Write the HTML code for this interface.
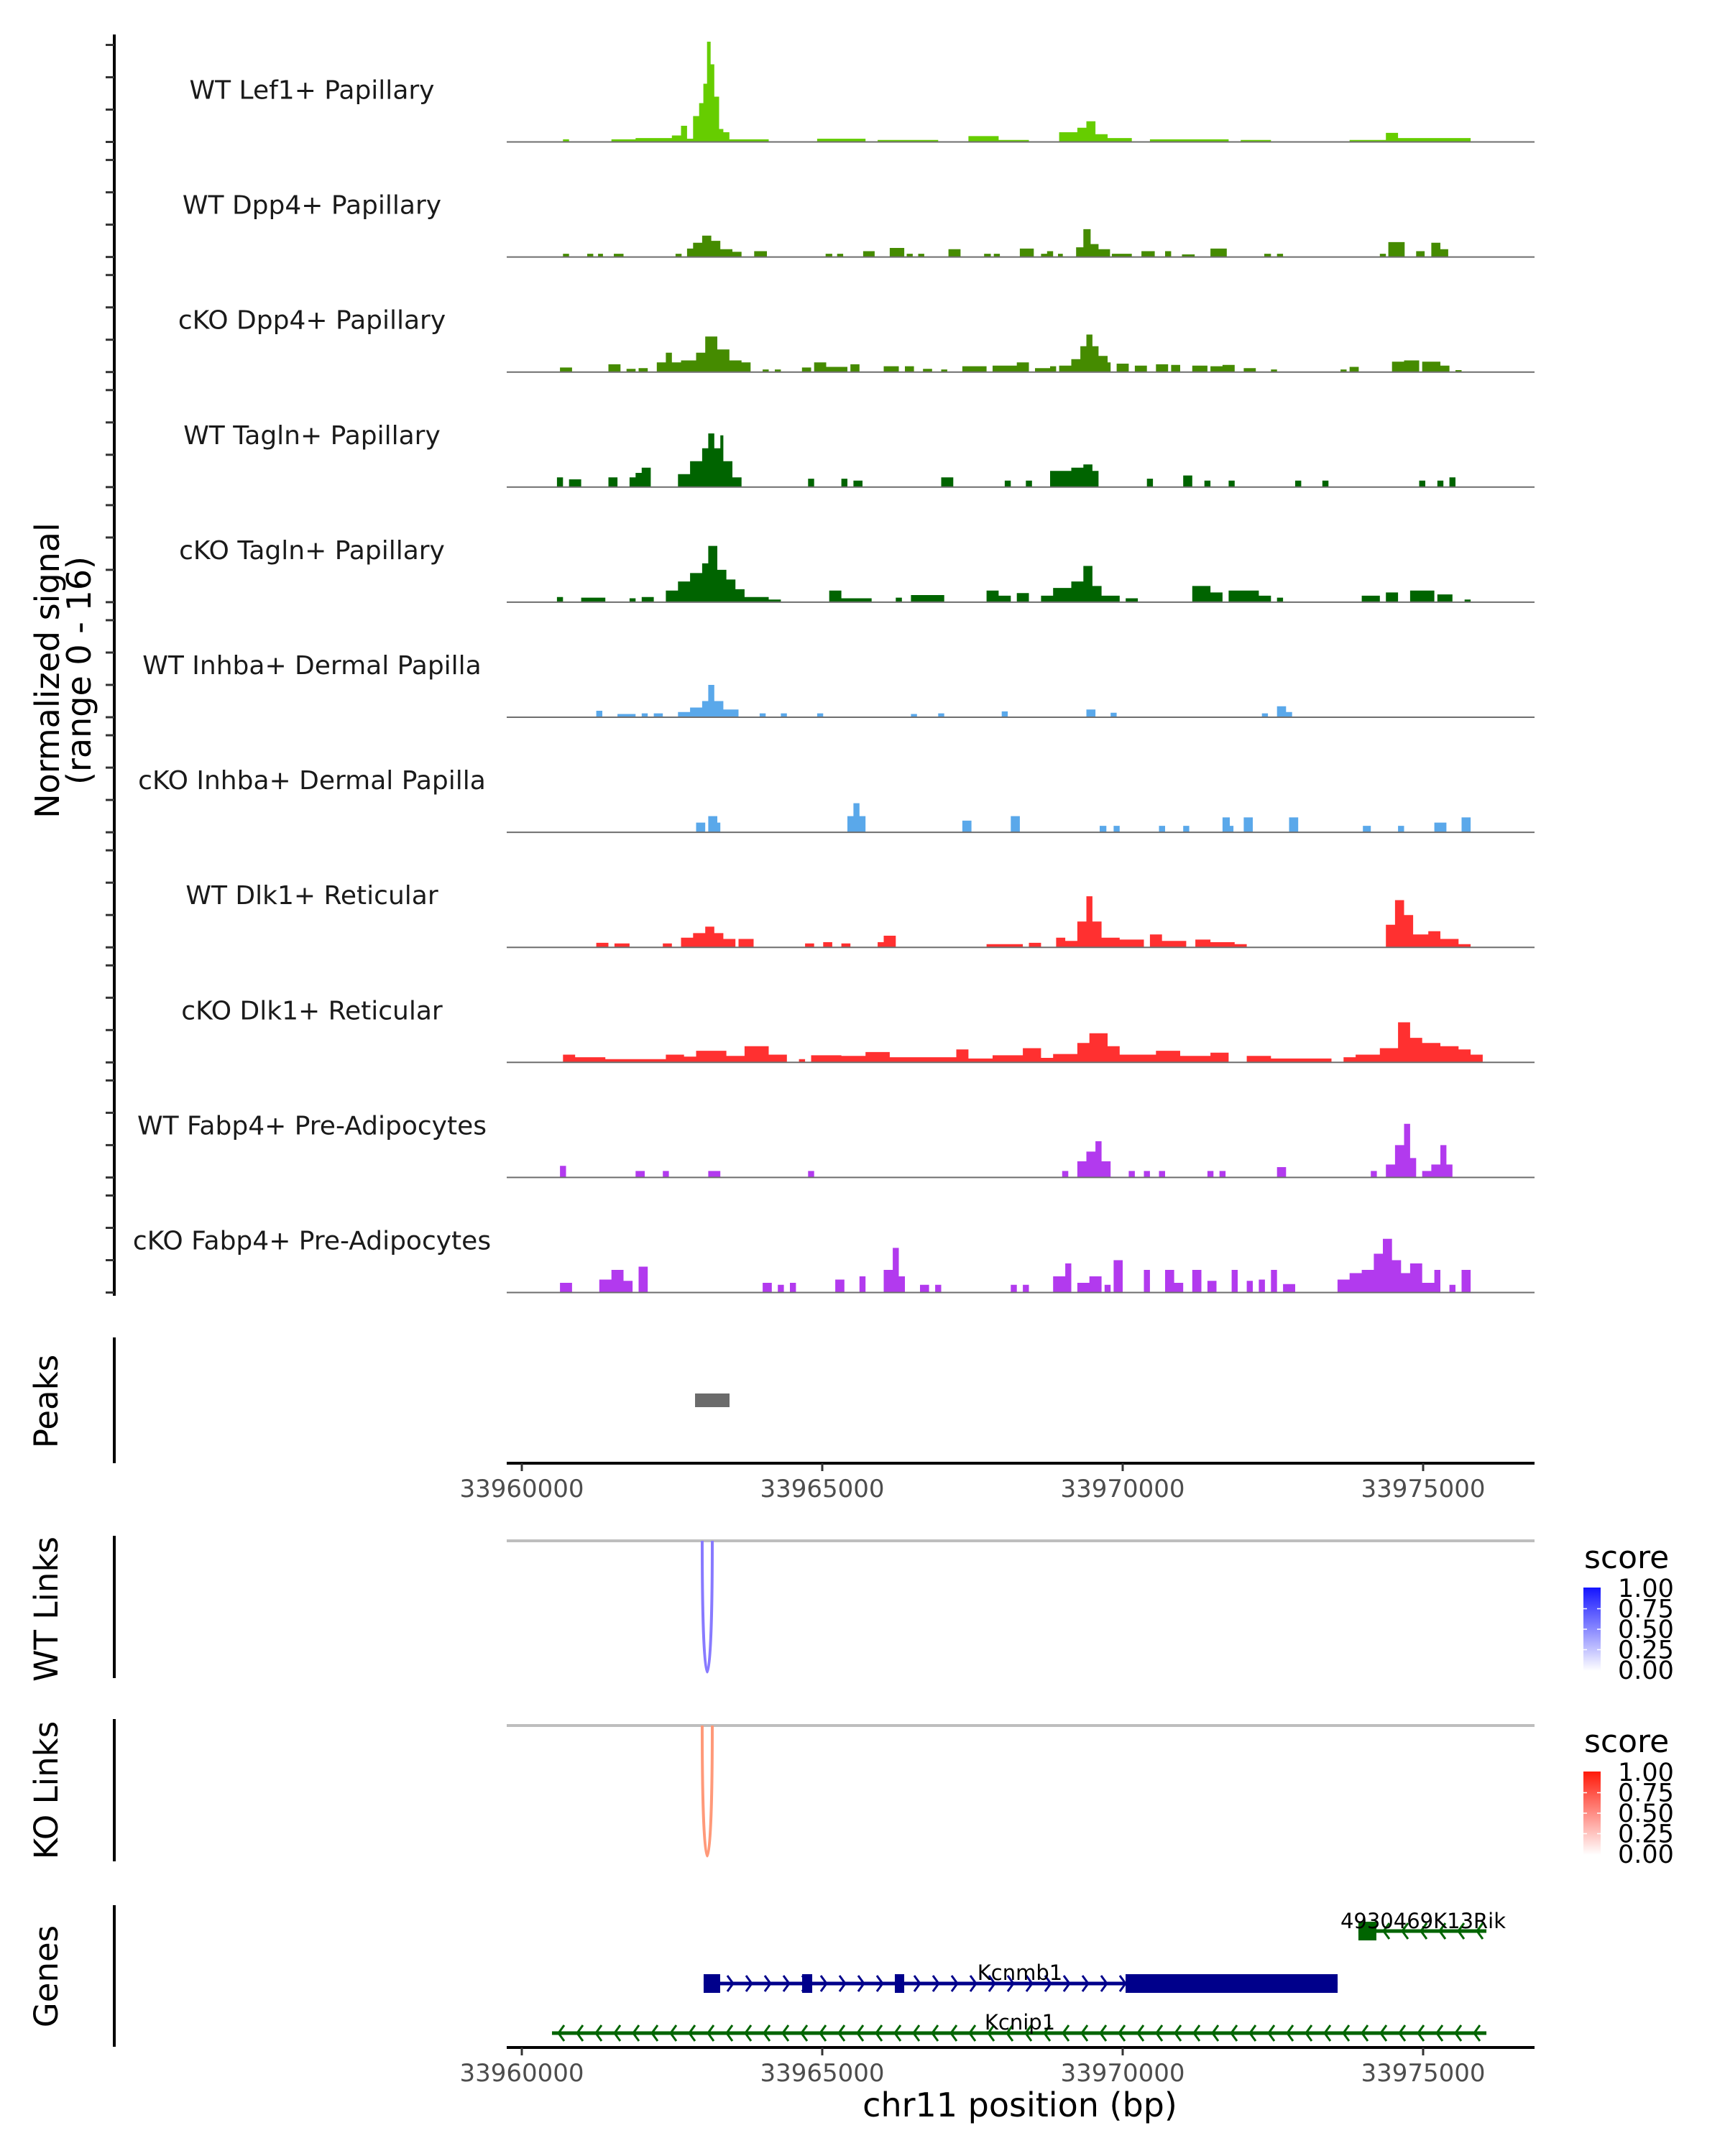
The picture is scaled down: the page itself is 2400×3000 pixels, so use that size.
<!DOCTYPE html>
<html><head><meta charset="utf-8"><title>Coverage plot chr11</title>
<style>
html,body{margin:0;padding:0;background:#fff;}
svg{display:block;font-family:"DejaVu Sans","Liberation Sans",sans-serif;}
</style></head>
<body>
<svg id="chart" xmlns="http://www.w3.org/2000/svg" width="2400" height="3000" viewBox="0 0 2400 3000">
<rect x="0" y="0" width="2400" height="3000" fill="#fff"/>
<g id="tracks"></g>
<g id="lower"></g>
</svg>
<script>
// ---------- data ----------
const trackNames = ["WT Lef1+ Papillary","WT Dpp4+ Papillary","cKO Dpp4+ Papillary","WT Tagln+ Papillary","cKO Tagln+ Papillary","WT Inhba+ Dermal Papilla","cKO Inhba+ Dermal Papilla","WT Dlk1+ Reticular","cKO Dlk1+ Reticular","WT Fabp4+ Pre-Adipocytes","cKO Fabp4+ Pre-Adipocytes"];
const trackColors = ["#66cd00","#458b00","#458b00","#006400","#006400","#5aa8ea","#5aa8ea","#ff3030","#ff3030","#b23aee","#b23aee"];
// segments: [start kb, end kb, signal] (kb offsets within region, estimated)
const sigLef1 = [[0.8,0.9,0.4],[1.6,2.0,0.4],[2.0,2.6,0.6],[2.6,2.75,1],[2.75,2.85,2.5],[2.85,2.95,0.5],[2.95,3.05,4],[3.05,3.12,6],[3.12,3.18,9],[3.18,3.24,15.5],[3.24,3.3,12],[3.3,3.38,7],[3.38,3.45,2],[3.45,3.55,1.5],[3.55,4.2,0.4],[5.0,5.8,0.5],[6.0,7.0,0.3],[7.5,8.0,0.9],[8.0,8.5,0.3],[9.0,9.3,1.5],[9.3,9.45,2.2],[9.45,9.6,3.2],[9.6,9.8,1.2],[9.8,10.2,0.6],[10.5,11.8,0.4],[12,12.5,0.3],[13.8,14.4,0.3],[14.4,14.6,1.4],[14.6,15.8,0.6]];
const sigWtDpp4 = [[0.8,0.9,0.5],[1.2,1.3,0.5],[1.38,1.46,0.5],[1.64,1.8,0.5],[2.66,2.76,0.5],[2.85,2.95,1.3],[2.95,3.1,2.2],[3.1,3.25,3.3],[3.25,3.4,2.5],[3.4,3.6,1.2],[3.6,3.75,0.8],[3.96,4.17,0.9],[5.14,5.25,0.5],[5.33,5.43,0.5],[5.76,5.95,0.9],[6.2,6.44,1.4],[6.48,6.58,0.5],[6.67,6.77,0.5],[7.17,7.37,1.2],[7.76,7.87,0.5],[7.92,8.02,0.5],[8.35,8.58,1.3],[8.7,8.8,0.5],[8.8,8.9,0.9],[8.98,9.06,0.5],[9.28,9.4,1.5],[9.4,9.52,4.3],[9.52,9.65,2.0],[9.65,9.84,1.2],[9.87,10.2,0.5],[10.36,10.58,0.9],[10.75,10.85,0.9],[11.03,11.24,0.4],[11.5,11.77,1.3],[12.39,12.5,0.5],[12.6,12.7,0.5],[14.3,14.4,0.5],[14.44,14.71,2.3],[14.9,15.04,0.9],[15.15,15.3,2.2],[15.3,15.43,1.2]];
const sigCkoDpp4 = [[0.75,0.95,0.7],[1.55,1.75,1.2],[1.85,2.0,0.5],[2.05,2.2,0.6],[2.35,2.5,1.5],[2.5,2.6,3],[2.6,2.75,1.5],[2.75,3.0,1.8],[3.0,3.15,3],[3.15,3.35,5.5],[3.35,3.55,3.5],[3.55,3.75,1.8],[3.75,3.9,1.5],[4.1,4.2,0.4],[4.3,4.4,0.4],[4.75,4.9,0.7],[4.95,5.15,1.5],[5.15,5.5,0.8],[5.55,5.7,1.2],[6.1,6.35,0.9],[6.45,6.6,0.9],[6.75,6.9,0.5],[7.05,7.15,0.4],[7.4,7.8,0.9],[7.9,8.3,1.0],[8.3,8.5,1.5],[8.6,8.85,0.6],[8.85,8.95,0.9],[9.0,9.2,1.0],[9.2,9.35,2.0],[9.35,9.45,4],[9.45,9.55,5.8],[9.55,9.65,4],[9.65,9.8,2.5],[9.8,9.85,1.5],[9.95,10.15,1.3],[10.25,10.45,1.0],[10.6,10.8,1.2],[10.85,11.0,1.1],[11.2,11.45,1.0],[11.5,11.7,0.9],[11.7,11.9,1.1],[12.05,12.25,0.6],[12.5,12.6,0.4],[13.65,13.75,0.4],[13.8,13.95,0.8],[14.5,14.7,1.6],[14.7,14.95,1.8],[15.0,15.3,1.6],[15.3,15.45,1.0],[15.55,15.65,0.3]];
const sigWtTagln = [[0.7,0.8,1.5],[0.9,1.1,1.2],[1.55,1.7,1.5],[1.9,2.0,1.5],[2.0,2.1,2.2],[2.1,2.25,3],[2.7,2.9,2],[2.9,3.1,4],[3.1,3.2,6],[3.2,3.3,8.3],[3.3,3.4,6],[3.4,3.45,8],[3.45,3.6,4],[3.6,3.75,1.5],[4.85,4.95,1.3],[5.4,5.5,1.3],[5.6,5.75,1.0],[7.05,7.25,1.5],[8.1,8.2,1.0],[8.45,8.55,1.0],[8.85,9.2,2.5],[9.2,9.4,3],[9.4,9.55,3.5],[9.55,9.65,2.5],[10.45,10.55,1.3],[11.05,11.2,1.8],[11.4,11.5,1.0],[11.8,11.9,1.0],[12.9,13.0,1.0],[13.35,13.45,1.0],[14.95,15.05,1.0],[15.25,15.35,1.0],[15.45,15.55,1.5]];
const sigCkoTagln = [[0.7,0.8,0.8],[1.1,1.5,0.7],[1.9,2.0,0.6],[2.1,2.3,0.8],[2.5,2.7,1.8],[2.7,2.9,3.2],[2.9,3.1,4.5],[3.1,3.2,6],[3.2,3.35,8.7],[3.35,3.5,5],[3.5,3.65,3.5],[3.65,3.8,2],[3.8,4.2,0.8],[4.2,4.4,0.4],[5.2,5.4,1.8],[5.4,5.9,0.6],[6.3,6.4,0.7],[6.55,7.1,1.1],[7.8,8.0,1.8],[8.0,8.2,1.0],[8.3,8.5,1.4],[8.7,8.9,1.0],[8.9,9.2,2.2],[9.2,9.4,3.2],[9.4,9.55,5.6],[9.55,9.7,2.5],[9.7,10.0,1.0],[10.1,10.3,0.6],[11.2,11.5,2.5],[11.5,11.7,1.5],[11.8,12.3,1.8],[12.3,12.5,1.0],[12.6,12.7,0.7],[14.0,14.3,1.0],[14.4,14.6,1.5],[14.8,15.2,1.8],[15.25,15.5,1.2],[15.7,15.8,0.4]];
const sigWtInhba = [[1.35,1.45,1.0],[1.7,2.0,0.5],[2.1,2.2,0.6],[2.3,2.45,0.6],[2.7,2.9,0.8],[2.9,3.1,1.5],[3.1,3.2,2.5],[3.2,3.3,5],[3.3,3.45,2.5],[3.45,3.7,1.2],[4.05,4.15,0.6],[4.4,4.5,0.6],[5.0,5.1,0.6],[6.55,6.65,0.5],[7.0,7.1,0.6],[8.05,8.15,0.9],[9.45,9.6,1.2],[9.85,9.95,0.7],[12.35,12.45,0.6],[12.6,12.75,1.7],[12.75,12.85,0.8]];
const sigCkoInhba = [[3.0,3.15,1.5],[3.2,3.35,2.5],[3.35,3.4,1.5],[5.5,5.6,2.5],[5.6,5.7,4.5],[5.7,5.8,2.5],[7.4,7.55,1.8],[8.2,8.35,2.5],[9.67,9.78,1.0],[9.9,10.0,1.0],[10.65,10.75,1.0],[11.05,11.15,1.0],[11.7,11.82,2.3],[11.82,11.88,1.0],[12.05,12.2,2.3],[12.8,12.95,2.3],[14.02,14.15,1.0],[14.6,14.7,1.0],[15.2,15.4,1.5],[15.65,15.8,2.3]];
const sigWtDlk1 = [[1.35,1.55,0.7],[1.65,1.9,0.6],[2.45,2.6,0.6],[2.75,2.95,1.5],[2.95,3.15,2.2],[3.15,3.3,3.2],[3.3,3.45,2.2],[3.45,3.65,1.3],[3.7,3.95,1.3],[4.8,4.95,0.6],[5.1,5.25,0.8],[5.4,5.55,0.6],[6.0,6.1,0.8],[6.1,6.3,1.8],[7.8,8.4,0.5],[8.5,8.7,0.7],[8.95,9.1,1.5],[9.1,9.3,1.0],[9.3,9.45,4],[9.45,9.55,7.9],[9.55,9.7,4],[9.7,10.0,1.5],[10.0,10.4,1.2],[10.5,10.7,2],[10.7,11.1,1.0],[11.25,11.5,1.2],[11.5,11.9,0.8],[11.9,12.1,0.5],[14.4,14.55,3.5],[14.55,14.7,7.3],[14.7,14.85,5],[14.85,15.1,2],[15.1,15.3,2.5],[15.3,15.6,1.3],[15.6,15.8,0.5]];
const sigCkoDlk1 = [[0.8,1.0,1.2],[1.0,1.5,0.8],[1.5,2.5,0.5],[2.5,2.8,1.2],[2.8,3.0,0.9],[3.0,3.5,1.8],[3.5,3.8,1.0],[3.8,4.2,2.5],[4.2,4.5,1.2],[4.7,4.8,0.5],[4.9,5.4,1.1],[5.4,5.8,1.0],[5.8,6.2,1.6],[6.2,6.5,0.8],[6.5,7.3,0.8],[7.3,7.5,2],[7.5,7.9,0.6],[7.9,8.4,1.1],[8.4,8.7,2.2],[8.7,8.9,0.7],[8.9,9.3,1.3],[9.3,9.5,3],[9.5,9.8,4.5],[9.8,10.0,2.5],[10.0,10.6,1.2],[10.6,11.0,1.8],[11.0,11.5,1.0],[11.5,11.8,1.5],[12.1,12.5,1.0],[12.5,13.5,0.6],[13.7,13.9,0.8],[13.9,14.3,1.2],[14.3,14.6,2.2],[14.6,14.8,6.2],[14.8,15.0,3.8],[15.0,15.3,3],[15.3,15.6,2.5],[15.6,15.8,2],[15.8,16.0,1.2]];
const sigWtFabp4 = [[0.75,0.85,1.8],[2.0,2.15,1.0],[2.45,2.55,1.0],[3.2,3.4,1.0],[4.85,4.95,1.0],[9.05,9.15,1.0],[9.3,9.45,2.5],[9.45,9.6,4],[9.6,9.7,5.6],[9.7,9.85,2.5],[10.15,10.25,1.0],[10.4,10.5,1.0],[10.65,10.75,1.0],[11.45,11.55,1.0],[11.65,11.75,1.0],[12.6,12.75,1.6],[14.15,14.25,1.0],[14.4,14.55,2],[14.55,14.7,5],[14.7,14.8,8.3],[14.8,14.9,3],[15.0,15.15,1],[15.15,15.3,2],[15.3,15.4,5],[15.4,15.5,2]];
const sigCkoFabp4 = [[0.75,0.95,1.5],[1.4,1.6,2],[1.6,1.8,3.5],[1.8,1.95,1.8],[2.05,2.2,4],[4.1,4.25,1.5],[4.35,4.45,1.2],[4.55,4.65,1.5],[5.3,5.45,2],[5.7,5.8,2.5],[6.1,6.25,3.5],[6.25,6.35,6.9],[6.35,6.45,2.5],[6.7,6.85,1.2],[6.95,7.05,1.2],[8.2,8.3,1.2],[8.4,8.5,1.2],[8.9,9.1,2.5],[9.1,9.2,4.5],[9.3,9.5,1.5],[9.5,9.7,2.5],[9.75,9.85,1.2],[9.9,10.05,5],[10.4,10.5,3.5],[10.75,10.9,3.5],[10.9,11.05,1.5],[11.2,11.35,3.5],[11.45,11.6,1.8],[11.85,11.95,3.5],[12.1,12.2,1.8],[12.3,12.4,2],[12.5,12.6,3.5],[12.7,12.9,1.3],[13.6,13.8,2],[13.8,14.0,3],[14.0,14.2,3.5],[14.2,14.35,6],[14.35,14.5,8.3],[14.5,14.65,5],[14.65,14.8,3],[14.8,15.0,4.5],[15.0,15.2,1.5],[15.2,15.3,3.5],[15.45,15.55,1.2],[15.65,15.8,3.5]];
const trackSignals = [sigLef1,sigWtDpp4,sigCkoDpp4,sigWtTagln,sigCkoTagln,sigWtInhba,sigCkoInhba,sigWtDlk1,sigCkoDlk1,sigWtFabp4,sigCkoFabp4];
const yTickVals = [0,5,10,15];
const xTickVals = [33960000,33965000,33970000,33975000];
const peakStarts = [33962883];
const peakEnds = [33963457];
const wtLinkStarts = [33963002];
const wtLinkEnds = [33963170];
const wtLinkScores = [0.55];
const koLinkStarts = [33963002];
const koLinkEnds = [33963170];
const koLinkScores = [0.5];
const legendTicks = ["1.00","0.75","0.50","0.25","0.00"];
const geneNames = ["4930469K13Rik","Kcnmb1","Kcnip1"];
const geneStarts = [33973923,33963026,33960502];
const geneEnds = [33976053,33973577,33976053];
const geneStrands = ["-","+","-"];
const geneColors = ["#006400","#00008b","#006400"];
const geneExons = [[[33973923,33974222]],[[33963026,33963301],[33964665,33964833],[33966208,33966364],[33970048,33973577]],[]];

// ---------- scales ----------
const REGION_ORIGIN_BP = 33959880, KB_BP = 1007; // calibration of estimated kb offsets
const xOf = bp => 726 + (bp - 33960000) * 0.0836;
const kbToBp = k => REGION_ORIGIN_BP + k * KB_BP;
const PX_PER_UNIT = 9.0;
const baseOf = i => 197.5 + 160.1 * i;
const NS = "http://www.w3.org/2000/svg";
function mk(tag, attrs, parent){ const e=document.createElementNS(NS,tag); for(const k in attrs) e.setAttribute(k,attrs[k]); parent.appendChild(e); return e; }

const tracksG = document.getElementById('tracks');
const lowerG = document.getElementById('lower');

let ax = mk('line',{x1:159,y1:48,x2:159,y2:1803,stroke:'#000','stroke-width':4},tracksG);



trackNames.forEach((name,i)=>{
  const b = baseOf(i);
  const g = mk('g',{},tracksG);
  
  
  yTickVals.forEach(v=>{
    const t = mk('line',{x1:147,x2:159,y1:b - v*PX_PER_UNIT,y2:b - v*PX_PER_UNIT,stroke:'#333','stroke-width':3},g);
    
    
  });
  const lab = mk('text',{x:434,y:b-60,'text-anchor':'middle','font-size':36,fill:'#1a1a1a'},g);
  lab.textContent = name;
  
  
  let d='';
  trackSignals[i].forEach(s=>{
    const x1=xOf(kbToBp(s[0])), x2=xOf(kbToBp(s[1])), y=b - s[2]*PX_PER_UNIT;
    d += `M${x1.toFixed(1)},${b}L${x1.toFixed(1)},${y.toFixed(1)}L${x2.toFixed(1)},${y.toFixed(1)}L${x2.toFixed(1)},${b}Z`;
  });
  const area = mk('path',{d:d,fill:trackColors[i]},g);
  
  
  const bl = mk('line',{x1:705,x2:2135,y1:b,y2:b,stroke:'#6e6e6e','stroke-width':2},g);
  
  
});

const yt = mk('text',{transform:'translate(94,933) rotate(-90)','text-anchor':'middle','font-size':46,fill:'#000'},tracksG);


const ts1 = mk('tspan',{x:0,dy:-12},yt); ts1.textContent='Normalized signal';
const ts2 = mk('tspan',{x:0,dy:44},yt); ts2.textContent='(range 0 - 16)';

function panelLabel(text, cy, y1, y2, nm){
  const t = mk('text',{transform:`translate(80,${cy}) rotate(-90)`,'text-anchor':'middle','font-size':45,fill:'#000'},lowerG);
  t.textContent = text;
  
  
  const l = mk('line',{x1:159,x2:159,y1:y1,y2:y2,stroke:'#000','stroke-width':4},lowerG);
  
  
}
panelLabel('Peaks',1950,1861,2036,'peaks');
panelLabel('WT Links',2239,2137,2335,'wt-links');
panelLabel('KO Links',2491,2392,2590,'ko-links');
panelLabel('Genes',2750,2651,2848,'genes');

peakStarts.forEach((s,i)=>{
  const r = mk('rect',{x:xOf(s),y:1939,width:xOf(peakEnds[i])-xOf(s),height:19,fill:'#6b6b6b'},lowerG);
  
  
});

function xAxis(y, nm, withTitle){
  const g = mk('g',{},lowerG);
  
  
  mk('line',{x1:705,x2:2135,y1:y,y2:y,stroke:'#000','stroke-width':4},g);
  xTickVals.forEach(v=>{
    const t = mk('line',{x1:xOf(v),x2:xOf(v),y1:y,y2:y+11,stroke:'#333','stroke-width':3},g);
    
    
    const l = mk('text',{x:xOf(v),y:y+47,'text-anchor':'middle','font-size':34,fill:'#4d4d4d'},g);
    l.textContent = String(v);
    
    
  });
  if(withTitle){
    const tt = mk('text',{x:1419,y:2945,'text-anchor':'middle','font-size':46,fill:'#000'},g);
    tt.textContent='chr11 position (bp)';
    
    
  }
}
xAxis(2036,'peaks-x-axis',false);
xAxis(2849,'genes-x-axis',true);

function links(top, bottom, starts, ends, scores, rgb, nm){
  const bg = mk('line',{x1:705,x2:2135,y1:top,y2:top,stroke:'#bebebe','stroke-width':4},lowerG);
  
  
  starts.forEach((s,i)=>{
    const x1=xOf(s), x2=xOf(ends[i]), depth=(bottom-top), s2=scores[i];
    const c = rgb(s2);
    const p = mk('path',{d:`M${x1},${top}C${x1},${top+depth*1.33} ${x2},${top+depth*1.33} ${x2},${top}`,fill:'none',stroke:c,'stroke-width':4},lowerG);
    
    
  });
}
links(2144,2327,wtLinkStarts,wtLinkEnds,wtLinkScores,s=>`rgb(${Math.round(255*(1-s*0.85))},${Math.round(255*(1-s*0.95))},255)`,'wt-link');
links(2401,2583,koLinkStarts,koLinkEnds,koLinkScores,s=>`rgb(255,${Math.round(255*(1-s*0.8))},${Math.round(255*(1-s*1.05))})`,'ko-link');

function legend(y0, topColor, id, nm){
  const g = mk('g',{},lowerG);
  
  
  const defs = mk('defs',{},g);
  const lg = mk('linearGradient',{id:id,x1:0,y1:0,x2:0,y2:1},defs);
  mk('stop',{offset:'0','stop-color':topColor},lg);
  mk('stop',{offset:'1','stop-color':'#ffffff'},lg);
  const t = mk('text',{x:2204,y:y0,'font-size':44,fill:'#000'},g);
  t.textContent='score';
  
  
  const barTop=y0+27, barH=116;
  const r = mk('rect',{x:2203,y:barTop,width:24,height:barH,fill:`url(#${id})`},g);
  
  
  legendTicks.forEach((lbl,k)=>{
    const yy = barTop + 1 + k*(barH-2)/4;
    if(k>0 && k<4){
      mk('line',{x1:2203,x2:2208,y1:yy,y2:yy,stroke:'#fff','stroke-width':1.5},g);
      mk('line',{x1:2222,x2:2227,y1:yy,y2:yy,stroke:'#fff','stroke-width':1.5},g);
    }
    const tl = mk('text',{x:2251,y:yy+12,'font-size':35,fill:'#000'},g);
    tl.textContent=lbl;
    
    
  });
}
legend(2182,'#1414ff','gradWT','wt-links-legend');
legend(2438,'#ff1a0a','gradKO','ko-links-legend');

const geneYs = [2687,2760,2829];
const labelYs = [2683,2755,2824];
const labelXs = [1980,1419,1419];
geneNames.forEach((name,i)=>{
  const g = mk('g',{},lowerG);
  
  
  const y=geneYs[i], c=geneColors[i], x1=xOf(geneStarts[i]), x2=xOf(geneEnds[i]);
  mk('line',{x1:x1,x2:x2,y1:y,y2:y,stroke:c,'stroke-width':5},g);
  let cd='';
  for(let x=x1+12; x<x2-6; x+=26){
    if(geneStrands[i]==='+') cd+=`M${x-5},${y-11}L${x+3},${y}L${x-5},${y+11}`;
    else cd+=`M${x+5},${y-11}L${x-3},${y}L${x+5},${y+11}`;
  }
  mk('path',{d:cd,fill:'none',stroke:c,'stroke-width':3},g);
  geneExons[i].forEach(e=>{
    const ex = mk('rect',{x:xOf(e[0]),y:y-13,width:xOf(e[1])-xOf(e[0]),height:26,fill:c},g);
    
    
  });
  const t = mk('text',{x:labelXs[i],y:labelYs[i],'text-anchor':'middle','font-size':29,fill:'#000'},g);
  t.textContent=name;
  
  
});
</script>
</body></html>
